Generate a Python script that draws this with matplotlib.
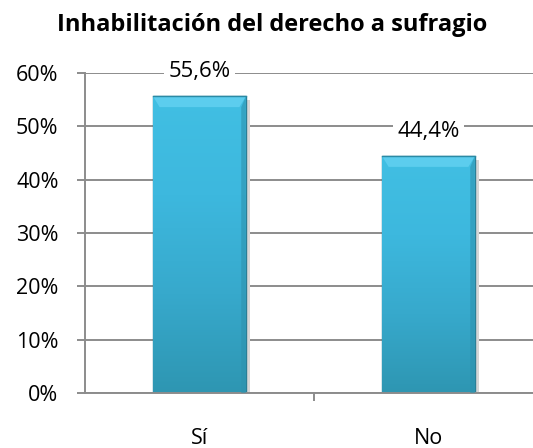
# Inhabilitación del derecho a sufragio - bar chart
import numpy as np
import matplotlib.pyplot as plt
from matplotlib.colors import LinearSegmentedColormap

categories = ['Sí', 'No']
values = [55.6, 44.4]
value_labels = ['55,6%', '44,4%']
y_ticks = [0, 10, 20, 30, 40, 50, 60]

plt.rcParams['font.family'] = ['Open Sans', 'DejaVu Sans']

fig = plt.figure(figsize=(5.33, 4.48), dpi=100)
W, H = 533, 448
# plot area runs past the right edge, as in the reference
ax = fig.add_axes([85 / W, (448 - 393) / H, 458 / W, 320 / H])

x = np.arange(len(categories))
grid_c = '#8c8c8c'
ax.set_ylim(0, 60)
ax.set_xlim(-0.5, len(categories) - 0.5)
ax.set_yticks(y_ticks)
ax.set_yticklabels([f'{t}%' for t in y_ticks])
ax.yaxis.grid(True, color=grid_c, linewidth=1.4)
ax.set_axisbelow(True)

# shadows
ax.bar(x + 0.015, values, width=0.41, color='#d6d6d6', zorder=1,
       bottom=-0.7)
bars = ax.bar(x, values, width=0.405, color='#3cb6dc', edgecolor='#2a7f96',
              linewidth=1.0, zorder=2)

cmap = LinearSegmentedColormap.from_list(
    'bar', ['#2e96b2', '#37a9cc', '#3db8de', '#41bfe3'])
grad = np.linspace(0, 1, 256).reshape(-1, 1)
for b in bars:
    x0, w, h = b.get_x(), b.get_width(), b.get_height()
    im = ax.imshow(grad, cmap=cmap, origin='lower', aspect='auto',
                   extent=[x0, x0 + w, 0, h], zorder=2.5)
    im.set_clip_path(b)
    # bevel highlight at the top
    ax.fill([x0, x0 + w, x0 + w * 0.93, x0 + w * 0.07],
            [h, h, h - 2.0, h - 2.0], color='#5ccdee', zorder=3, lw=0)
    ax.plot([x0, x0 + w], [h, h], color='#2a8aa5', lw=1.0, zorder=3.5)
    # darker right edge
    ax.fill([x0 + w, x0 + w, x0 + w * 0.95, x0 + w * 0.95],
            [0, h, h - 2.0, 0], color='#2e92ae', alpha=0.6, zorder=3, lw=0)

for xi, v, lab in zip(x, values, value_labels):
    ax.text(xi, v + 4.7, lab, ha='center', va='center', fontsize=16,
            bbox=dict(facecolor='white', edgecolor='none', pad=3), zorder=4)

for side in ['top', 'right']:
    ax.spines[side].set_visible(False)
for side in ['left', 'bottom']:
    ax.spines[side].set_color(grid_c)
    ax.spines[side].set_linewidth(1.4)

ax.set_xticks(x)
ax.set_xticklabels(categories)
ax.set_xticks([0.5], minor=True)
ax.tick_params(axis='x', which='major', length=0, pad=25, labelsize=15.5)
ax.tick_params(axis='x', which='minor', length=6, width=1.4, color=grid_c,
               direction='out')
ax.tick_params(axis='y', length=6, width=1.4, color=grid_c, pad=13,
               labelsize=15.5)

fig.text(272 / W, 1 - 25 / H, 'Inhabilitación del derecho a sufragio',
         ha='center', va='center', fontsize=17, fontweight='bold')

fig.savefig('out.png', dpi=100)
